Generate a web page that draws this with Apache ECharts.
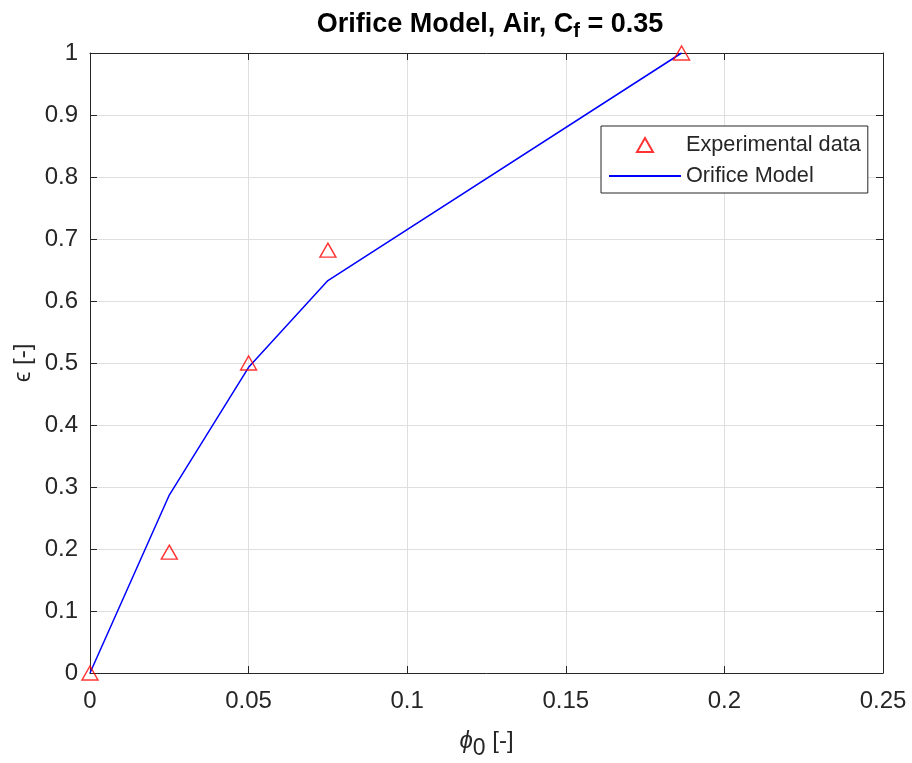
<!DOCTYPE html>
<html><head><meta charset="utf-8">
<script src="https://cdn.jsdelivr.net/npm/echarts@6/dist/echarts.min.js"></script>
<style>html,body{margin:0;padding:0;background:#fff}#c{width:912px;height:763px}</style>
</head><body><div id="c"></div>
<script>
const phi0 = [0, 0.025, 0.05, 0.075, 0.1865];
const expEps = [0, 0.195, 0.5, 0.682, 1.0];
const modelEps = [0, 0.287, 0.493, 0.633, 1.0];
const seriesNames = ['Experimental data', 'Orifice Model'];

const FONT = '"Liberation Sans", Arial, Helvetica, sans-serif';
const AX = '#262626';
const chart = echarts.init(document.getElementById('c'), null, {renderer: 'canvas'});

const baseAxis = {
  axisLine: {show: true, onZero: false, lineStyle: {color: AX, width: 1}},
  axisTick: {show: true, inside: true, length: 7, lineStyle: {color: AX}},
  splitLine: {show: false},
};

chart.setOption({
  animation: false,
  backgroundColor: '#fff',
  title: {
    text: 'Orifice Model, Air, C{sub|f} = 0.35',
    left: 485, top: 3, textAlign: 'center',
    textStyle: {
      fontFamily: FONT, fontSize: 27, fontWeight: 'bold', color: '#000',
      rich: {sub: {fontFamily: FONT, fontSize: 20, fontWeight: 'bold', color: '#000', verticalAlign: 'bottom', padding: [13, 0, 0, 0]}}
    }
  },
  legend: {
    orient: 'vertical', left: 601, top: 126,
    padding: [8, 7, 6, 7], itemGap: 9, itemWidth: 72, itemHeight: 14,
    backgroundColor: '#fff', borderColor: AX, borderWidth: 1,
    textStyle: {fontFamily: FONT, fontSize: 21.7, color: AX},
    data: [
      {name: seriesNames[0], icon: 'path://M0,0M72,14M36,0L44,14L28,14Z'},
      {name: seriesNames[1], itemStyle: {opacity: 0}}
    ]
  },
  grid: {left: 90, right: 29, top: 53, bottom: 90, containLabel: false, outerBoundsMode: 'none'},
  xAxis: [
    Object.assign({}, baseAxis, {
      type: 'value', min: 0, max: 0.25, interval: 0.05, position: 'bottom',
      axisLabel: {fontFamily: FONT, fontSize: 24, color: AX, margin: 16},
      splitLine: {show: true, lineStyle: {color: '#dfdfdf', width: 1}},
      name: '{i|ϕ}{s|0} [-]', nameLocation: 'middle', nameGap: 50,
      nameTextStyle: {fontFamily: FONT, fontSize: 24, color: AX,
        rich: {i: {fontFamily: FONT, fontSize: 24, fontStyle: 'italic', color: AX},
               s: {fontFamily: FONT, fontSize: 23, color: AX, verticalAlign: 'bottom', padding: [14, 0, 0, 0]}}}
    }),
    Object.assign({}, baseAxis, {
      type: 'value', min: 0, max: 0.25, interval: 0.05, position: 'top',
      axisLabel: {show: false}
    })
  ],
  yAxis: [
    Object.assign({}, baseAxis, {
      type: 'value', min: 0, max: 1, interval: 0.1, position: 'left',
      axisLabel: {fontFamily: FONT, fontSize: 24, color: AX, margin: 12},
      splitLine: {show: true, lineStyle: {color: '#dfdfdf', width: 1}},
      name: 'ϵ [-]', nameLocation: 'middle', nameGap: 55, nameRotate: 90, nameMoveOverlap: false,
      nameTextStyle: {fontFamily: FONT, fontSize: 24, color: AX}
    }),
    Object.assign({}, baseAxis, {
      type: 'value', min: 0, max: 1, interval: 0.1, position: 'right',
      axisLabel: {show: false}
    })
  ],
  series: [
    {
      name: seriesNames[0], type: 'scatter', clip: false, z: 5,
      symbol: 'triangle', symbolSize: [16, 14],
      itemStyle: {color: 'rgba(255,255,255,0)', borderColor: '#ff0000', borderWidth: 1.4},
      data: phi0.map((x, i) => [x, expEps[i]])
    },
    {
      name: seriesNames[1], type: 'line', symbol: 'none', clip: false, z: 4,
      lineStyle: {color: '#0000ff', width: 1.5},
      itemStyle: {color: '#0000ff'},
      data: phi0.map((x, i) => [x, modelEps[i]])
    }
  ]
});
</script></body></html>
